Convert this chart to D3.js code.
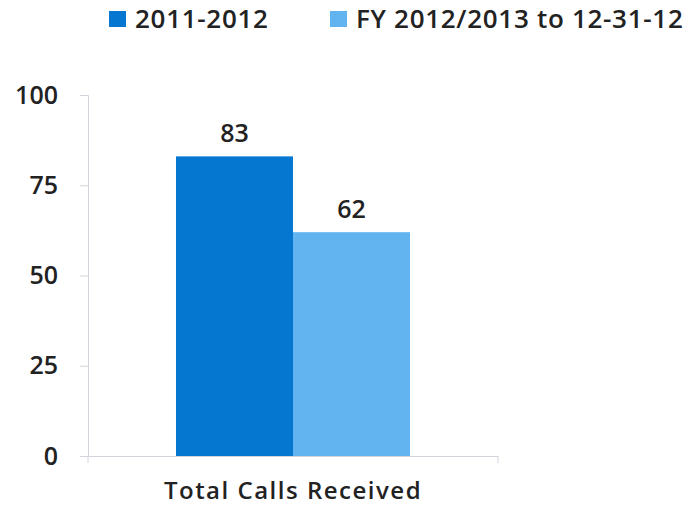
<!DOCTYPE html>
<html>
<head>
<meta charset="utf-8">
<script src="https://cdn.jsdelivr.net/npm/d3@7"></script>
<style>
  body { margin: 0; background: #fff; }
  text { font-family: "Open Sans", sans-serif; fill: #222; font-weight: 600; }
</style>
</head>
<body>
<div id="chart"></div>
<script>
// data
var categories = ["Total Calls Received"];
var seriesNames = ["2011-2012", "FY 2012/2013 to 12-31-12"];
var seriesValues = [[83], [62]];
var yTicks = [0, 25, 50, 75, 100];
var colors = ["#0577d0", "#62b4f0"];

var w = 691, h = 506;

var svg = d3.select("#chart")
  .append("svg")
  .attr("width", w)
  .attr("height", h);

var x0 = d3.scaleBand()
  .domain(categories)
  .range([88, 498])
  .padding(0);

var x1 = d3.scaleBand()
  .domain(seriesNames)
  .range([x0.bandwidth() * 0.2146, x0.bandwidth() * 0.7854])
  .padding(0);

var y = d3.scaleLinear()
  .domain([0, 100])
  .range([456, 95]);

// y axis
var yAxis = svg.append("g")
  .attr("transform", "translate(88,0)")
  .call(d3.axisLeft(y).tickValues(yTicks).tickSize(8).tickPadding(22));
yAxis.select(".domain").attr("stroke", "#d4d4dc");
yAxis.selectAll(".tick line").attr("stroke", "#d4d4dc");
yAxis.selectAll(".tick text")
  .style("font-size", "25px")
  .attr("fill", "#222");

// x axis
var xAxis = svg.append("g")
  .attr("transform", "translate(0,456)")
  .call(d3.axisBottom(x0).tickSize(0).tickPadding(26));
xAxis.select(".domain").attr("stroke", "#d4d4dc");
xAxis.selectAll(".tick text")
  .style("font-size", "24px")
  .style("letter-spacing", "1.5px")
  .attr("fill", "#222");
// boundary ticks
xAxis.selectAll(".edge")
  .data(x0.range())
  .enter()
  .append("line")
  .attr("x1", function(d) { return d; })
  .attr("x2", function(d) { return d; })
  .attr("y1", 0)
  .attr("y2", 7)
  .attr("stroke", "#d4d4dc");

// bars
var rows = [];
categories.forEach(function(c, ci) {
  seriesNames.forEach(function(s, si) {
    rows.push({ cat: c, series: s, value: seriesValues[si][ci], idx: si });
  });
});

svg.selectAll("rect.bar")
  .data(rows)
  .enter()
  .append("rect")
  .attr("class", "bar")
  .attr("x", function(d) { return x0(d.cat) + x1(d.series); })
  .attr("y", function(d) { return y(d.value); })
  .attr("width", x1.bandwidth())
  .attr("height", function(d) { return y(0) - y(d.value); })
  .attr("fill", function(d) { return colors[d.idx]; });

svg.selectAll("text.val")
  .data(rows)
  .enter()
  .append("text")
  .attr("class", "val")
  .attr("x", function(d) { return x0(d.cat) + x1(d.series) + x1.bandwidth() / 2; })
  .attr("y", function(d) { return y(d.value) - 14; })
  .attr("text-anchor", "middle")
  .style("font-size", "25px")
  .text(function(d) { return d.value; });

// legend
var legendX = [109, 330];
var legend = svg.selectAll("g.legend")
  .data(seriesNames)
  .enter()
  .append("g")
  .attr("class", "legend")
  .attr("transform", function(d, i) { return "translate(" + legendX[i] + ",0)"; });

legend.append("rect")
  .attr("x", 0)
  .attr("y", 11)
  .attr("width", 17)
  .attr("height", 16)
  .attr("fill", function(d, i) { return colors[i]; });

legend.append("text")
  .attr("x", 26)
  .attr("y", 28)
  .style("font-size", "26px")
  .style("letter-spacing", "0.7px")
  .text(function(d) { return d; });
</script>
</body>
</html>
